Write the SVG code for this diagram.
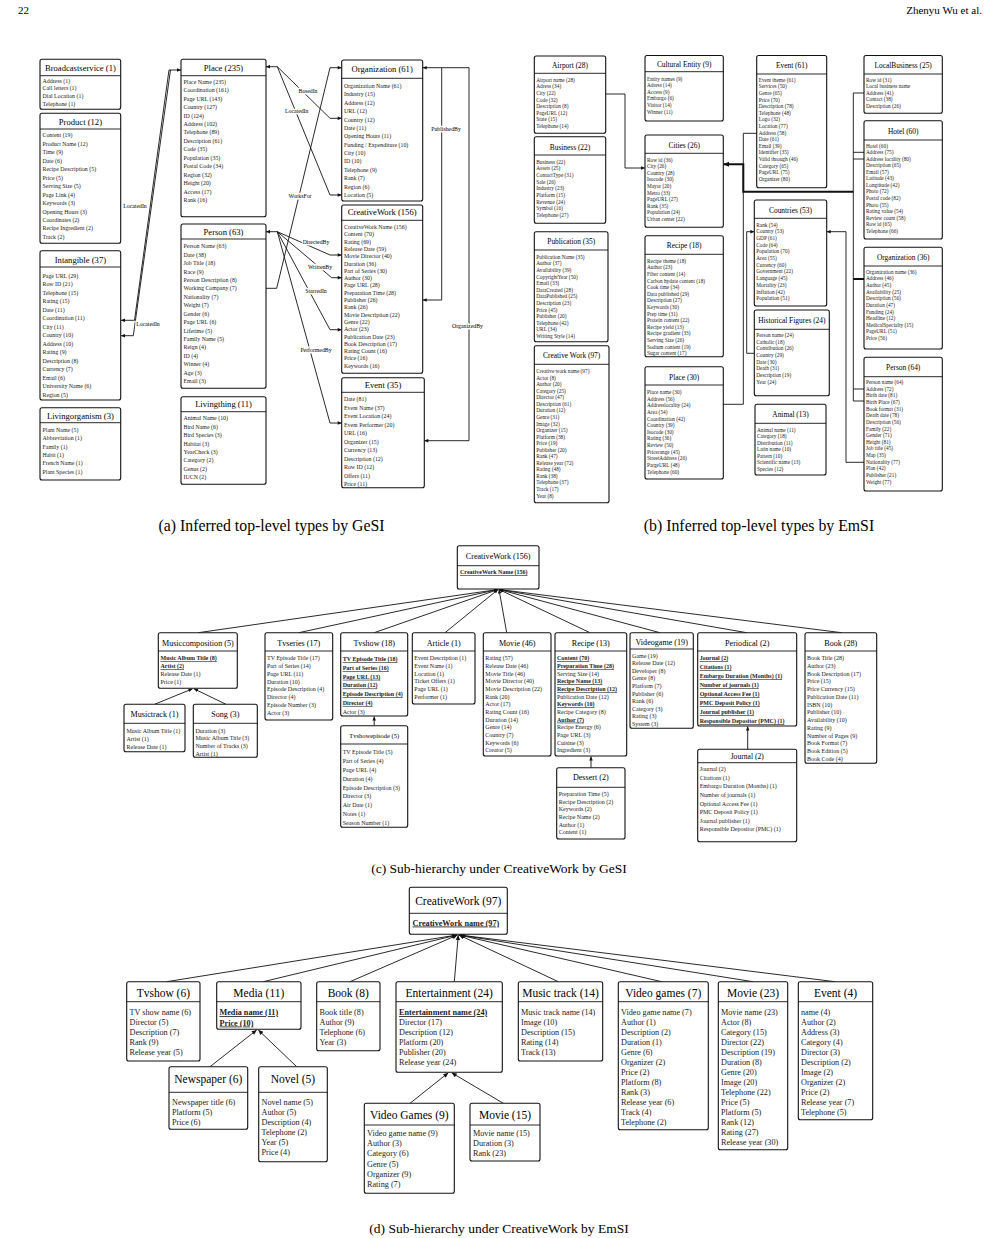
<svg xmlns="http://www.w3.org/2000/svg" width="999" height="1238" viewBox="0 0 999 1238">
<defs>
<style>
text{font-family:"Liberation Serif","Times New Roman",serif;fill:#000}
.b rect{fill:#fff;stroke:#111;stroke-width:1.1}
.b line{stroke:#111;stroke-width:0.9}
.ti{text-anchor:middle}
.it{fill:#1a1a1a}
.A .ti{font-size:8.6px}.A .it{font-size:5.9px}
.B .ti{font-size:7.4px}.B .it{font-size:5.3px}
.C .ti{font-size:8.1px}.C .it{font-size:6px}
.D .ti{font-size:11.5px}.D .it{font-size:8.2px}
.k{font-weight:bold;text-decoration:underline}
.e{fill:none;stroke:#111;stroke-width:0.9}
.th{fill:none;stroke:#111;stroke-width:2}
.lb{font-size:5.8px;text-anchor:middle;paint-order:stroke;stroke:#fff;stroke-width:2.5px}
.cap{font-size:13.5px;text-anchor:middle}
.cap2{font-size:15.8px;text-anchor:middle}
.hd{font-size:11px}
</style>
<marker id="ar" viewBox="0 0 10 10" refX="10" refY="5" markerWidth="4.5" markerHeight="4" markerUnits="userSpaceOnUse" orient="auto-start-reverse"><path d="M0,0.5 L10,5 L0,9.5 z" fill="#111"/></marker>
<marker id="at" viewBox="0 0 10 10" refX="10" refY="5" markerWidth="6" markerHeight="6" markerUnits="userSpaceOnUse" orient="auto-start-reverse"><path d="M0,0.5 L10,5 L0,9.5 z" fill="#111"/></marker>
<marker id="ad" viewBox="0 0 10 10" refX="10" refY="5" markerWidth="6" markerHeight="5" markerUnits="userSpaceOnUse" orient="auto-start-reverse"><path d="M0,0.5 L10,5 L0,9.5 z" fill="#111"/></marker>
</defs>
<rect width="999" height="1238" fill="#fff"/>
<text class="hd" x="18" y="14">22</text>
<text class="hd" x="982" y="14" text-anchor="end">Zhenyu Wu et al.</text>

<!-- ================= Panel (a) ================= -->
<g class="A">
<g id="a-connectors">
<path class="e" d="M121,320.3 H134.5 L169,70 H181" marker-start="url(#ar)" marker-end="url(#ar)"/>
<path class="e" d="M121,335.7 H133.3 L170.5,70" marker-start="url(#ar)"/>
<path class="e" d="M266,66.7 H277.3 L330,118.3 H341.7" marker-start="url(#ar)" marker-end="url(#ar)"/>
<path class="e" d="M277.3,66.7 L330,195 H341.7" marker-end="url(#ar)"/>
<path class="e" d="M266,288.3 H276.7 L330,67.7 H341.7" marker-end="url(#ar)"/>
<path class="e" d="M266,231.7 H277.3 L330,255 H341.7" marker-start="url(#ar)" marker-end="url(#ar)"/>
<path class="e" d="M277.3,231.7 L331.7,277.7 H341.7" marker-end="url(#ar)"/>
<path class="e" d="M277.3,231.7 L330,329.7 H341.7" marker-end="url(#ar)"/>
<path class="e" d="M277.3,231.7 L330,423 H341.7" marker-end="url(#ar)"/>
<path class="e" d="M422.7,67.7 H441.7 V300 H422.7" marker-start="url(#ar)" marker-end="url(#ar)"/>
<path class="e" d="M441.7,67.7 H469 V440.7 H424.3" marker-end="url(#ar)"/>
<text class="lb" x="135" y="207.7">LocatedIn</text>
<text class="lb" x="148" y="326">LocatedIn</text>
<text class="lb" x="308" y="92.7">BasedIn</text>
<text class="lb" x="296.7" y="112.7">LocatedIn</text>
<text class="lb" x="300" y="197.7">WorksFor</text>
<text class="lb" x="316" y="243.7">DirectedBy</text>
<text class="lb" x="320" y="269.3">WrittenBy</text>
<text class="lb" x="316" y="292.7">StarredIn</text>
<text class="lb" x="316" y="352">PerformedBy</text>
<text class="lb" x="446" y="131">PublishedBy</text>
<text class="lb" x="467.5" y="328">OrganizedBy</text>
</g>

<g id="a-broadcastservice" class="b"><rect x="40" y="59.3" width="80.7" height="50" rx="2"/><line x1="40" y1="75.7" x2="120.7" y2="75.7"/><text class="ti" x="80.4" y="71">Broadcastservice (1)</text>
<text class="it"><tspan x="42.5" y="82.7">Address (1)</tspan><tspan x="42.5" dy="7.7">Call letters (1)</tspan><tspan x="42.5" dy="7.7">Dial Location (1)</tspan><tspan x="42.5" dy="7.7">Telephone (1)</tspan></text></g>

<g id="a-product" class="b"><rect x="40" y="113.3" width="80.7" height="130" rx="2"/><line x1="40" y1="129" x2="120.7" y2="129"/><text class="ti" x="80.4" y="124.7">Product (12)</text>
<text class="it"><tspan x="42.5" y="137.3">Content (19)</tspan><tspan x="42.5" dy="8.47">Product Name (12)</tspan><tspan x="42.5" dy="8.47">Time (9)</tspan><tspan x="42.5" dy="8.47">Date (6)</tspan><tspan x="42.5" dy="8.47">Recipe Description (5)</tspan><tspan x="42.5" dy="8.47">Price (5)</tspan><tspan x="42.5" dy="8.47">Serving Size (5)</tspan><tspan x="42.5" dy="8.47">Page Link (4)</tspan><tspan x="42.5" dy="8.47">Keywords (3)</tspan><tspan x="42.5" dy="8.47">Opening Hours (3)</tspan><tspan x="42.5" dy="8.47">Coordinates (2)</tspan><tspan x="42.5" dy="8.47">Recipe Ingredient (2)</tspan><tspan x="42.5" dy="8.47">Track (2)</tspan></text></g>

<g id="a-intangible" class="b"><rect x="40" y="250.7" width="80.7" height="149.3" rx="2"/><line x1="40" y1="267" x2="120.7" y2="267"/><text class="ti" x="80.4" y="262.7">Intangible (37)</text>
<text class="it"><tspan x="42.5" y="277.7">Page URL (29)</tspan><tspan x="42.5" dy="8.5">Row ID (21)</tspan><tspan x="42.5" dy="8.5">Telephone (15)</tspan><tspan x="42.5" dy="8.5">Rating (15)</tspan><tspan x="42.5" dy="8.5">Date (11)</tspan><tspan x="42.5" dy="8.5">Coordination (11)</tspan><tspan x="42.5" dy="8.5">City (11)</tspan><tspan x="42.5" dy="8.5">Country (10)</tspan><tspan x="42.5" dy="8.5">Address (10)</tspan><tspan x="42.5" dy="8.5">Rating (9)</tspan><tspan x="42.5" dy="8.5">Description (8)</tspan><tspan x="42.5" dy="8.5">Currency (7)</tspan><tspan x="42.5" dy="8.5">Email (6)</tspan><tspan x="42.5" dy="8.5">University Name (6)</tspan><tspan x="42.5" dy="8.5">Region (5)</tspan></text></g>

<g id="a-livingorganism" class="b"><rect x="40" y="407.7" width="80.7" height="72.3" rx="2"/><line x1="40" y1="422.7" x2="120.7" y2="422.7"/><text class="ti" x="80.4" y="418.7">Livingorganism (3)</text>
<text class="it"><tspan x="42.5" y="432">Plant Name (5)</tspan><tspan x="42.5" dy="8.3">Abbreviation (1)</tspan><tspan x="42.5" dy="8.3">Family (1)</tspan><tspan x="42.5" dy="8.3">Habit (1)</tspan><tspan x="42.5" dy="8.3">French Name (1)</tspan><tspan x="42.5" dy="8.3">Plant Species (1)</tspan></text></g>

<g id="a-place" class="b"><rect x="181" y="59.3" width="85" height="157.4" rx="2"/><line x1="181" y1="75.7" x2="266" y2="75.7"/><text class="ti" x="223.5" y="70.7">Place (235)</text>
<text class="it"><tspan x="183.5" y="83.7">Place Name (235)</tspan><tspan x="183.5" dy="8.45">Coordination (161)</tspan><tspan x="183.5" dy="8.45">Page URL (143)</tspan><tspan x="183.5" dy="8.45">Country (127)</tspan><tspan x="183.5" dy="8.45">ID (124)</tspan><tspan x="183.5" dy="8.45">Address (102)</tspan><tspan x="183.5" dy="8.45">Telephone (89)</tspan><tspan x="183.5" dy="8.45">Description (61)</tspan><tspan x="183.5" dy="8.45">Code (35)</tspan><tspan x="183.5" dy="8.45">Population (35)</tspan><tspan x="183.5" dy="8.45">Postal Code (34)</tspan><tspan x="183.5" dy="8.45">Region (32)</tspan><tspan x="183.5" dy="8.45">Height (20)</tspan><tspan x="183.5" dy="8.45">Access (17)</tspan><tspan x="183.5" dy="8.45">Rank (16)</tspan></text></g>

<g id="a-person" class="b"><rect x="181" y="224" width="85" height="164.3" rx="2"/><line x1="181" y1="239" x2="266" y2="239"/><text class="ti" x="223.5" y="235.3">Person (63)</text>
<text class="it"><tspan x="183.5" y="248.3">Person Name (63)</tspan><tspan x="183.5" dy="8.42">Date (38)</tspan><tspan x="183.5" dy="8.42">Job Title (18)</tspan><tspan x="183.5" dy="8.42">Race (9)</tspan><tspan x="183.5" dy="8.42">Person Description (8)</tspan><tspan x="183.5" dy="8.42">Working Company (7)</tspan><tspan x="183.5" dy="8.42">Nationality (7)</tspan><tspan x="183.5" dy="8.42">Weight (7)</tspan><tspan x="183.5" dy="8.42">Gender (6)</tspan><tspan x="183.5" dy="8.42">Page URL (6)</tspan><tspan x="183.5" dy="8.42">Lifetime (5)</tspan><tspan x="183.5" dy="8.42">Family Name (5)</tspan><tspan x="183.5" dy="8.42">Reign (4)</tspan><tspan x="183.5" dy="8.42">ID (4)</tspan><tspan x="183.5" dy="8.42">Winner (4)</tspan><tspan x="183.5" dy="8.42">Age (3)</tspan><tspan x="183.5" dy="8.42">Email (3)</tspan></text></g>

<g id="a-livingthing" class="b"><rect x="181" y="396.7" width="85" height="87.6" rx="2"/><line x1="181" y1="411.7" x2="266" y2="411.7"/><text class="ti" x="223.5" y="407.3">Livingthing (11)</text>
<text class="it"><tspan x="183.5" y="420.3">Animal Name (10)</tspan><tspan x="183.5" dy="8.43">Bird Name (6)</tspan><tspan x="183.5" dy="8.43">Bird Species (3)</tspan><tspan x="183.5" dy="8.43">Habitat (3)</tspan><tspan x="183.5" dy="8.43">YearCheck (3)</tspan><tspan x="183.5" dy="8.43">Category (2)</tspan><tspan x="183.5" dy="8.43">Genus (2)</tspan><tspan x="183.5" dy="8.43">IUCN (2)</tspan></text></g>

<g id="a-organization" class="b"><rect x="341.7" y="60" width="81" height="141" rx="2"/><line x1="341.7" y1="78.3" x2="422.7" y2="78.3"/><text class="ti" x="382.2" y="72.3">Organization (61)</text>
<text class="it"><tspan x="344" y="88">Organization Name (61)</tspan><tspan x="344" dy="8.38">Industry (15)</tspan><tspan x="344" dy="8.38">Address (12)</tspan><tspan x="344" dy="8.38">URL (12)</tspan><tspan x="344" dy="8.38">Country (12)</tspan><tspan x="344" dy="8.38">Date (11)</tspan><tspan x="344" dy="8.38">Opening Hours (11)</tspan><tspan x="344" dy="8.38">Funding / Expenditure (10)</tspan><tspan x="344" dy="8.38">City (10)</tspan><tspan x="344" dy="8.38">ID (10)</tspan><tspan x="344" dy="8.38">Telephone (9)</tspan><tspan x="344" dy="8.38">Rank (7)</tspan><tspan x="344" dy="8.38">Region (6)</tspan><tspan x="344" dy="8.38">Location (5)</tspan></text></g>

<g id="a-creativework" class="b"><rect x="341.7" y="205" width="81" height="168.3" rx="2"/><line x1="341.7" y1="220.3" x2="422.7" y2="220.3"/><text class="ti" x="382.2" y="215.3">CreativeWork (156)</text>
<text class="it"><tspan x="344" y="229">CreativeWork Name (156)</tspan><tspan x="344" dy="7.3">Content (70)</tspan><tspan x="344" dy="7.3">Rating (69)</tspan><tspan x="344" dy="7.3">Release Date (59)</tspan><tspan x="344" dy="7.3">Movie Director (40)</tspan><tspan x="344" dy="7.3">Duration (36)</tspan><tspan x="344" dy="7.3">Part of Series (30)</tspan><tspan x="344" dy="7.3">Author (30)</tspan><tspan x="344" dy="7.3">Page URL (28)</tspan><tspan x="344" dy="7.3">Preparation Time (28)</tspan><tspan x="344" dy="7.3">Publisher (26)</tspan><tspan x="344" dy="7.3">Rank (26)</tspan><tspan x="344" dy="7.3">Movie Description (22)</tspan><tspan x="344" dy="7.3">Genre (22)</tspan><tspan x="344" dy="7.3">Actor (23)</tspan><tspan x="344" dy="7.3">Publication Date (23)</tspan><tspan x="344" dy="7.3">Book Description (17)</tspan><tspan x="344" dy="7.3">Rating Count (16)</tspan><tspan x="344" dy="7.3">Price (16)</tspan><tspan x="344" dy="7.3">Keywords (16)</tspan></text></g>

<g id="a-event" class="b"><rect x="341.7" y="377.7" width="82.6" height="110" rx="2"/><line x1="341.7" y1="392.3" x2="424.3" y2="392.3"/><text class="ti" x="383" y="388">Event (35)</text>
<text class="it"><tspan x="344" y="401">Date (81)</tspan><tspan x="344" dy="8.5">Event Name (37)</tspan><tspan x="344" dy="8.5">Event Location (24)</tspan><tspan x="344" dy="8.5">Event Performer (20)</tspan><tspan x="344" dy="8.5">URL (16)</tspan><tspan x="344" dy="8.5">Organizer (15)</tspan><tspan x="344" dy="8.5">Currency (13)</tspan><tspan x="344" dy="8.5">Description (12)</tspan><tspan x="344" dy="8.5">Row ID (12)</tspan><tspan x="344" dy="8.5">Offers (11)</tspan><tspan x="344" dy="8.5">Price (11)</tspan></text></g>
</g>
<text class="cap2" x="271.5" y="531">(a) Inferred top-level types by GeSI</text>

<!-- ================= Panel (b) ================= -->
<g class="B">
<g id="b-connectors">
<path class="e" d="M605.7,94 H625 V168 H645" marker-end="url(#ar)"/>
<path class="e" d="M756.7,133.3 H743.3 V404.3 H723.3"/>
<path class="th" d="M853.3,191.7 H743.3 V164.3 H723.3" marker-end="url(#at)"/>
<path class="e" d="M864,93 H853.3 V401 H864"/>
<path class="e" d="M853.3,152.3 H864 M853.3,159 H864 M853.3,389 H864"/>
<path class="th" d="M853.3,279 H864"/>
<path class="e" d="M864,462.3 H846 V231.7 H826.7" marker-end="url(#ar)"/>
<path class="e" d="M754.3,353.3 H746.7 V231.7 H754.3" marker-end="url(#ar)"/>
</g>

<g id="b-airport" class="b"><rect x="534.3" y="56" width="71.4" height="77.3" rx="2"/><line x1="534.3" y1="73.3" x2="605.7" y2="73.3"/><text class="ti" x="570" y="67.5">Airport (28)</text>
<text class="it"><tspan x="536.3" y="81.8">Airport name (28)</tspan><tspan x="536.3" dy="6.57">Adress (34)</tspan><tspan x="536.3" dy="6.57">City (22)</tspan><tspan x="536.3" dy="6.57">Code (32)</tspan><tspan x="536.3" dy="6.57">Description (8)</tspan><tspan x="536.3" dy="6.57">PageURL (12)</tspan><tspan x="536.3" dy="6.57">State (15)</tspan><tspan x="536.3" dy="6.57">Telephone (14)</tspan></text></g>

<g id="b-business" class="b"><rect x="534.3" y="136.7" width="71.4" height="86.6" rx="2"/><line x1="534.3" y1="155" x2="605.7" y2="155"/><text class="ti" x="570" y="149.8">Business (22)</text>
<text class="it"><tspan x="536.3" y="163.8">Business (22)</tspan><tspan x="536.3" dy="6.67">Assets (25)</tspan><tspan x="536.3" dy="6.67">ContactType (31)</tspan><tspan x="536.3" dy="6.67">Sale (26)</tspan><tspan x="536.3" dy="6.67">Industry (23)</tspan><tspan x="536.3" dy="6.67">Platform (15)</tspan><tspan x="536.3" dy="6.67">Revenue (24)</tspan><tspan x="536.3" dy="6.67">Symbol (16)</tspan><tspan x="536.3" dy="6.67">Telephone (27)</tspan></text></g>

<g id="b-publication" class="b"><rect x="534.3" y="231.7" width="73.7" height="110" rx="2"/><line x1="534.3" y1="250" x2="608" y2="250"/><text class="ti" x="571.2" y="243.5">Publication (35)</text>
<text class="it"><tspan x="536.3" y="258.8">Publication Name (35)</tspan><tspan x="536.3" dy="6.6">Author (37)</tspan><tspan x="536.3" dy="6.6">Availability (39)</tspan><tspan x="536.3" dy="6.6">CopyrightYear (50)</tspan><tspan x="536.3" dy="6.6">Email (33)</tspan><tspan x="536.3" dy="6.6">DataCreated (28)</tspan><tspan x="536.3" dy="6.6">DataPublished (25)</tspan><tspan x="536.3" dy="6.6">Description (23)</tspan><tspan x="536.3" dy="6.6">Price (45)</tspan><tspan x="536.3" dy="6.6">Publisher (20)</tspan><tspan x="536.3" dy="6.6">Telephone (42)</tspan><tspan x="536.3" dy="6.6">URL (34)</tspan><tspan x="536.3" dy="6.6">Writing Style (14)</tspan></text></g>

<g id="b-creativework" class="b"><rect x="534.3" y="345.7" width="74.7" height="157" rx="2"/><line x1="534.3" y1="364.3" x2="609" y2="364.3"/><text class="ti" x="571.7" y="357.5">Creative Work (97)</text>
<text class="it"><tspan x="536.3" y="373.1">Creative work name (97)</tspan><tspan x="536.3" dy="6.55">Actor (8)</tspan><tspan x="536.3" dy="6.55">Author (20)</tspan><tspan x="536.3" dy="6.55">Category (25)</tspan><tspan x="536.3" dy="6.55">Director (47)</tspan><tspan x="536.3" dy="6.55">Description (61)</tspan><tspan x="536.3" dy="6.55">Duration (12)</tspan><tspan x="536.3" dy="6.55">Genre (31)</tspan><tspan x="536.3" dy="6.55">Image (32)</tspan><tspan x="536.3" dy="6.55">Organizer (15)</tspan><tspan x="536.3" dy="6.55">Platform (38)</tspan><tspan x="536.3" dy="6.55">Price (19)</tspan><tspan x="536.3" dy="6.55">Publisher (20)</tspan><tspan x="536.3" dy="6.55">Rank (47)</tspan><tspan x="536.3" dy="6.55">Release year (72)</tspan><tspan x="536.3" dy="6.55">Rating (48)</tspan><tspan x="536.3" dy="6.55">Rank (38)</tspan><tspan x="536.3" dy="6.55">Telephone (37)</tspan><tspan x="536.3" dy="6.55">Track (17)</tspan><tspan x="536.3" dy="6.55">Year (8)</tspan></text></g>

<g id="b-culturalentity" class="b"><rect x="645" y="55.5" width="78.3" height="65.5" rx="2"/><line x1="645" y1="71.7" x2="723.3" y2="71.7"/><text class="ti" x="684.2" y="66.8">Cultural Entity (9)</text>
<text class="it"><tspan x="647" y="80.8">Entity names (9)</tspan><tspan x="647" dy="6.54">Adress (14)</tspan><tspan x="647" dy="6.54">Access (9)</tspan><tspan x="647" dy="6.54">Embargo (6)</tspan><tspan x="647" dy="6.54">Visitor (14)</tspan><tspan x="647" dy="6.54">Winner (11)</tspan></text></g>

<g id="b-cities" class="b"><rect x="645" y="135" width="78.3" height="92.3" rx="2"/><line x1="645" y1="153.3" x2="723.3" y2="153.3"/><text class="ti" x="684.2" y="147.8">Cities (26)</text>
<text class="it"><tspan x="647" y="161.8">Row id (36)</tspan><tspan x="647" dy="6.56">City (26)</tspan><tspan x="647" dy="6.56">Country (28)</tspan><tspan x="647" dy="6.56">Isocode (30)</tspan><tspan x="647" dy="6.56">Mayor (20)</tspan><tspan x="647" dy="6.56">Metro (33)</tspan><tspan x="647" dy="6.56">PageURL (27)</tspan><tspan x="647" dy="6.56">Rank (35)</tspan><tspan x="647" dy="6.56">Population (24)</tspan><tspan x="647" dy="6.56">Urban center (22)</tspan></text></g>

<g id="b-recipe" class="b"><rect x="645" y="235.7" width="78.3" height="121" rx="2"/><line x1="645" y1="254.3" x2="723.3" y2="254.3"/><text class="ti" x="684.2" y="247.5">Recipe (18)</text>
<text class="it"><tspan x="647" y="262.8">Recipe theme (18)</tspan><tspan x="647" dy="6.6">Author (23)</tspan><tspan x="647" dy="6.6">Fiber content (14)</tspan><tspan x="647" dy="6.6">Carbon hydate content (18)</tspan><tspan x="647" dy="6.6">Cook time (34)</tspan><tspan x="647" dy="6.6">Data published (29)</tspan><tspan x="647" dy="6.6">Description (27)</tspan><tspan x="647" dy="6.6">Keywords (30)</tspan><tspan x="647" dy="6.6">Prep time (31)</tspan><tspan x="647" dy="6.6">Protein content (22)</tspan><tspan x="647" dy="6.6">Recipe yield (13)</tspan><tspan x="647" dy="6.6">Recipe gradient (33)</tspan><tspan x="647" dy="6.6">Serving Size (26)</tspan><tspan x="647" dy="6.6">Sodium content (19)</tspan><tspan x="647" dy="6.6">Sugar content (17)</tspan></text></g>

<g id="b-place" class="b"><rect x="645" y="366.7" width="78.3" height="112.3" rx="2"/><line x1="645" y1="385" x2="723.3" y2="385"/><text class="ti" x="684.2" y="380.2">Place (30)</text>
<text class="it"><tspan x="647" y="394.1">Place name (30)</tspan><tspan x="647" dy="6.62">Address (56)</tspan><tspan x="647" dy="6.62">Addresslocality (24)</tspan><tspan x="647" dy="6.62">Area (54)</tspan><tspan x="647" dy="6.62">Coordination (42)</tspan><tspan x="647" dy="6.62">Country (39)</tspan><tspan x="647" dy="6.62">Isocode (30)</tspan><tspan x="647" dy="6.62">Rating (36)</tspan><tspan x="647" dy="6.62">Review (50)</tspan><tspan x="647" dy="6.62">Pricerange (45)</tspan><tspan x="647" dy="6.62">StreetAddress (26)</tspan><tspan x="647" dy="6.62">PargeURL (48)</tspan><tspan x="647" dy="6.62">Telephone (60)</tspan></text></g>

<g id="b-event" class="b"><rect x="756.7" y="55.5" width="70" height="132.2" rx="2"/><line x1="756.7" y1="74" x2="826.7" y2="74"/><text class="ti" x="791.7" y="67.5">Event (61)</text>
<text class="it"><tspan x="758.7" y="81.8">Event theme (61)</tspan><tspan x="758.7" dy="6.6">Services (50)</tspan><tspan x="758.7" dy="6.6">Genre (65)</tspan><tspan x="758.7" dy="6.6">Price (70)</tspan><tspan x="758.7" dy="6.6">Description (78)</tspan><tspan x="758.7" dy="6.6">Telephone (48)</tspan><tspan x="758.7" dy="6.6">Logo (32)</tspan><tspan x="758.7" dy="6.6">Location (77)</tspan><tspan x="758.7" dy="6.6">Address (58)</tspan><tspan x="758.7" dy="6.6">Date (61)</tspan><tspan x="758.7" dy="6.6">Email (39)</tspan><tspan x="758.7" dy="6.6">Identifier (35)</tspan><tspan x="758.7" dy="6.6">Valid through (46)</tspan><tspan x="758.7" dy="6.6">Category (65)</tspan><tspan x="758.7" dy="6.6">PageURL (75)</tspan><tspan x="758.7" dy="6.6">Organizer (80)</tspan></text></g>

<g id="b-countries" class="b"><rect x="754.3" y="200" width="72.4" height="106" rx="2"/><line x1="754.3" y1="218.3" x2="826.7" y2="218.3"/><text class="ti" x="790.5" y="212.5">Countries (53)</text>
<text class="it"><tspan x="756.3" y="226.8">Rank (54)</tspan><tspan x="756.3" dy="6.67">Country (53)</tspan><tspan x="756.3" dy="6.67">GDP (61)</tspan><tspan x="756.3" dy="6.67">Code (64)</tspan><tspan x="756.3" dy="6.67">Population (70)</tspan><tspan x="756.3" dy="6.67">Area (55)</tspan><tspan x="756.3" dy="6.67">Currency (60)</tspan><tspan x="756.3" dy="6.67">Government (22)</tspan><tspan x="756.3" dy="6.67">Language (45)</tspan><tspan x="756.3" dy="6.67">Mortality (23)</tspan><tspan x="756.3" dy="6.67">Inflation (42)</tspan><tspan x="756.3" dy="6.67">Population (51)</tspan></text></g>

<g id="b-historicalfigures" class="b"><rect x="754.3" y="310" width="75" height="85.7" rx="2"/><line x1="754.3" y1="329.3" x2="829.3" y2="329.3"/><text class="ti" x="791.8" y="323.2">Historical Figures (24)</text>
<text class="it"><tspan x="756.3" y="337.1">Person name (24)</tspan><tspan x="756.3" dy="6.67">Catholic (18)</tspan><tspan x="756.3" dy="6.67">Contribution (26)</tspan><tspan x="756.3" dy="6.67">Country (29)</tspan><tspan x="756.3" dy="6.67">Date (30)</tspan><tspan x="756.3" dy="6.67">Death (31)</tspan><tspan x="756.3" dy="6.67">Description (19)</tspan><tspan x="756.3" dy="6.67">Year (24)</tspan></text></g>

<g id="b-animal" class="b"><rect x="755" y="404.3" width="71" height="70.7" rx="2"/><line x1="755" y1="423.3" x2="826" y2="423.3"/><text class="ti" x="790.5" y="416.8">Animal (13)</text>
<text class="it"><tspan x="757" y="431.8">Animal name (11)</tspan><tspan x="757" dy="6.5">Category (18)</tspan><tspan x="757" dy="6.5">Distribution (11)</tspan><tspan x="757" dy="6.5">Latin name (10)</tspan><tspan x="757" dy="6.5">Pattern (10)</tspan><tspan x="757" dy="6.5">Scientific name (13)</tspan><tspan x="757" dy="6.5">Species (12)</tspan></text></g>

<g id="b-localbusiness" class="b"><rect x="864" y="55.5" width="78.3" height="57.8" rx="2"/><line x1="864" y1="74" x2="942.3" y2="74"/><text class="ti" x="903.2" y="67.5">LocalBusiness (25)</text>
<text class="it"><tspan x="866" y="81.8">Row id (31)</tspan><tspan x="866" dy="6.5">Local business name</tspan><tspan x="866" dy="6.5">Address (41)</tspan><tspan x="866" dy="6.5">Contact (38)</tspan><tspan x="866" dy="6.5">Description (26)</tspan></text></g>

<g id="b-hotel" class="b"><rect x="864" y="120.7" width="78.3" height="118.3" rx="2"/><line x1="864" y1="140" x2="942.3" y2="140"/><text class="ti" x="903.2" y="133.5">Hotel (60)</text>
<text class="it"><tspan x="866" y="147.5">Hotel (60)</tspan><tspan x="866" dy="6.56">Address (75)</tspan><tspan x="866" dy="6.56">Address locality (80)</tspan><tspan x="866" dy="6.56">Description (65)</tspan><tspan x="866" dy="6.56">Email (57)</tspan><tspan x="866" dy="6.56">Latitude (43)</tspan><tspan x="866" dy="6.56">Longtitude (42)</tspan><tspan x="866" dy="6.56">Photo (72)</tspan><tspan x="866" dy="6.56">Postal code (82)</tspan><tspan x="866" dy="6.56">Photo (55)</tspan><tspan x="866" dy="6.56">Rating value (54)</tspan><tspan x="866" dy="6.56">Review count (58)</tspan><tspan x="866" dy="6.56">Row id (65)</tspan><tspan x="866" dy="6.56">Telephone (66)</tspan></text></g>

<g id="b-organization" class="b"><rect x="864" y="247.3" width="78.3" height="101.7" rx="2"/><line x1="864" y1="266" x2="942.3" y2="266"/><text class="ti" x="903.2" y="259.8">Organization (36)</text>
<text class="it"><tspan x="866" y="273.8">Organization name (36)</tspan><tspan x="866" dy="6.63">Address (46)</tspan><tspan x="866" dy="6.63">Author (45)</tspan><tspan x="866" dy="6.63">Availability (25)</tspan><tspan x="866" dy="6.63">Description (56)</tspan><tspan x="866" dy="6.63">Duration (47)</tspan><tspan x="866" dy="6.63">Funding (24)</tspan><tspan x="866" dy="6.63">Headline (12)</tspan><tspan x="866" dy="6.63">MedicalSpecialty (15)</tspan><tspan x="866" dy="6.63">PageURL (51)</tspan><tspan x="866" dy="6.63">Price (56)</tspan></text></g>

<g id="b-person" class="b"><rect x="864" y="357.3" width="78.3" height="133.7" rx="2"/><line x1="864" y1="376.7" x2="942.3" y2="376.7"/><text class="ti" x="903.2" y="369.8">Person (64)</text>
<text class="it"><tspan x="866" y="384.1">Person name (64)</tspan><tspan x="866" dy="6.63">Address (72)</tspan><tspan x="866" dy="6.63">Birth date (81)</tspan><tspan x="866" dy="6.63">Birth Place (67)</tspan><tspan x="866" dy="6.63">Book format (31)</tspan><tspan x="866" dy="6.63">Death date (78)</tspan><tspan x="866" dy="6.63">Description (56)</tspan><tspan x="866" dy="6.63">Family (22)</tspan><tspan x="866" dy="6.63">Gender (71)</tspan><tspan x="866" dy="6.63">Height (81)</tspan><tspan x="866" dy="6.63">Job title (45)</tspan><tspan x="866" dy="6.63">Map (35)</tspan><tspan x="866" dy="6.63">Nationality (77)</tspan><tspan x="866" dy="6.63">Plan (42)</tspan><tspan x="866" dy="6.63">Publisher (21)</tspan><tspan x="866" dy="6.63">Weight (77)</tspan></text></g>
</g>
<text class="cap2" x="759" y="531">(b) Inferred top-level types by EmSI</text>

<!-- ================= Panel (c) ================= -->
<g class="C">
<g id="c-connectors">
<path class="e" d="M198.3,632.7 L498,589.5" marker-end="url(#ar)"/>
<path class="e" d="M298.8,632.7 L498,589.5" marker-end="url(#ar)"/>
<path class="e" d="M374.2,632.7 L498,589.5" marker-end="url(#ar)"/>
<path class="e" d="M445,632.7 L498,589.5" marker-end="url(#ar)"/>
<path class="e" d="M506.7,632.7 L499,589.5" marker-end="url(#ar)"/>
<path class="e" d="M590,632.7 L499,589.5" marker-end="url(#ar)"/>
<path class="e" d="M660,632.7 L499,589.5" marker-end="url(#ar)"/>
<path class="e" d="M746.7,632.7 L499,589.5" marker-end="url(#ar)"/>
<path class="e" d="M841.7,632.7 L499,589.5" marker-end="url(#ar)"/>
<path class="e" d="M154.5,704.3 L192.5,688.8" marker-end="url(#ar)"/>
<path class="e" d="M226,704.3 L194,688.8" marker-end="url(#ar)"/>
<path class="e" d="M374.2,725.7 V716.5" marker-end="url(#ar)"/>
<path class="e" d="M591,767.7 V756.5" marker-end="url(#ar)"/>
<path class="e" d="M747.7,749.3 V726.5" marker-end="url(#ar)"/>
</g>

<g id="c-creativework" class="b"><rect x="457.3" y="545.7" width="81.7" height="43.3" rx="2"/><line x1="457.3" y1="565.7" x2="539" y2="565.7"/><text class="ti" x="498.2" y="558.5">CreativeWork (156)</text>
<text class="it k" x="460" y="574.3">CreativeWork Name (156)</text></g>

<g id="c-musiccomposition" class="b"><rect x="158.3" y="632.7" width="79" height="55.6" rx="2"/><line x1="158.3" y1="651" x2="237.3" y2="651"/><text class="ti" x="197.8" y="646.1">Musiccomposition (5)</text>
<text class="it"><tspan class="k" x="160.5" y="660.3">Music Album Title (8)</tspan><tspan class="k" x="160.5" dy="7.8">Artist (2)</tspan><tspan x="160.5" dy="7.8">Release Date (1)</tspan><tspan x="160.5" dy="7.8">Price (1)</tspan></text></g>

<g id="c-musictrack" class="b"><rect x="124" y="704.3" width="61" height="47.4" rx="2"/><line x1="124" y1="723.3" x2="185" y2="723.3"/><text class="ti" x="154.5" y="716.8">Musictrack (1)</text>
<text class="it"><tspan x="126.5" y="733">Music Album Title (1)</tspan><tspan x="126.5" dy="7.85">Artist (1)</tspan><tspan x="126.5" dy="7.85">Release Date (1)</tspan></text></g>

<g id="c-song" class="b"><rect x="193.3" y="704.3" width="64" height="53" rx="2"/><line x1="193.3" y1="723.3" x2="257.3" y2="723.3"/><text class="ti" x="225.3" y="716.8">Song (3)</text>
<text class="it"><tspan x="195.5" y="732.7">Duration (3)</tspan><tspan x="195.5" dy="7.67">Music Album Title (3)</tspan><tspan x="195.5" dy="7.67">Number of Tracks (3)</tspan><tspan x="195.5" dy="7.67">Artist (1)</tspan></text></g>

<g id="c-tvseries" class="b"><rect x="265" y="632.7" width="67.7" height="87.3" rx="2"/><line x1="265" y1="651" x2="332.7" y2="651"/><text class="ti" x="298.8" y="646.1">Tvseries (17)</text>
<text class="it"><tspan x="267" y="660.3">TV Episode Title (17)</tspan><tspan x="267" dy="7.77">Part of Series (14)</tspan><tspan x="267" dy="7.77">Page URL (11)</tspan><tspan x="267" dy="7.77">Duration (10)</tspan><tspan x="267" dy="7.77">Episode Description (4)</tspan><tspan x="267" dy="7.77">Director (4)</tspan><tspan x="267" dy="7.77">Episode Number (3)</tspan><tspan x="267" dy="7.77">Actor (3)</tspan></text></g>

<g id="c-tvshow" class="b"><rect x="340.7" y="632.7" width="67" height="83.3" rx="2"/><line x1="340.7" y1="651" x2="407.7" y2="651"/><text class="ti" x="374.2" y="646.1">Tvshow (18)</text>
<text class="it"><tspan class="k" x="342.7" y="661.3">TV Episode Title (18)</tspan><tspan class="k" x="342.7" dy="8.73">Part of Series (16)</tspan><tspan class="k" x="342.7" dy="8.73">Page URL (13)</tspan><tspan class="k" x="342.7" dy="8.73">Duration (12)</tspan><tspan class="k" x="342.7" dy="8.73">Episode Description (4)</tspan><tspan class="k" x="342.7" dy="8.73">Director (4)</tspan><tspan x="342.7" dy="8.73">Actor (3)</tspan></text></g>

<g id="c-tvshowepisode" class="b"><rect x="340.7" y="725.7" width="67" height="101.6" rx="2"/><line x1="340.7" y1="744" x2="407.7" y2="744"/><text class="ti" x="374.2" y="737.8" style="font-size:6.5px">Tvshowepisode (5)</text>
<text class="it"><tspan x="342.7" y="754.3">TV Episode Title (5)</tspan><tspan x="342.7" dy="8.8">Part of Series (4)</tspan><tspan x="342.7" dy="8.8">Page URL (4)</tspan><tspan x="342.7" dy="8.8">Duration (4)</tspan><tspan x="342.7" dy="8.8">Episode Description (3)</tspan><tspan x="342.7" dy="8.8">Director (3)</tspan><tspan x="342.7" dy="8.8">Air Date (1)</tspan><tspan x="342.7" dy="8.8">Notes (1)</tspan><tspan x="342.7" dy="8.8">Season Number (1)</tspan></text></g>

<g id="c-article" class="b"><rect x="412.3" y="632.7" width="62.7" height="71.3" rx="2"/><line x1="412.3" y1="651" x2="475" y2="651"/><text class="ti" x="443.7" y="646.1">Article (1)</text>
<text class="it"><tspan x="414.3" y="660.3">Event Description (1)</tspan><tspan x="414.3" dy="7.7">Event Name (1)</tspan><tspan x="414.3" dy="7.7">Location (1)</tspan><tspan x="414.3" dy="7.7">Ticket Offers (1)</tspan><tspan x="414.3" dy="7.7">Page URL (1)</tspan><tspan x="414.3" dy="7.7">Performer (1)</tspan></text></g>

<g id="c-movie" class="b"><rect x="483.3" y="632.7" width="67.7" height="123.3" rx="2"/><line x1="483.3" y1="651" x2="551" y2="651"/><text class="ti" x="517.2" y="646.1">Movie (46)</text>
<text class="it"><tspan x="485.3" y="660.3">Rating (57)</tspan><tspan x="485.3" dy="7.67">Release Date (46)</tspan><tspan x="485.3" dy="7.67">Movie Title (46)</tspan><tspan x="485.3" dy="7.67">Movie Director (40)</tspan><tspan x="485.3" dy="7.67">Movie Description (22)</tspan><tspan x="485.3" dy="7.67">Rank (20)</tspan><tspan x="485.3" dy="7.67">Actor (17)</tspan><tspan x="485.3" dy="7.67">Rating Count (16)</tspan><tspan x="485.3" dy="7.67">Duration (14)</tspan><tspan x="485.3" dy="7.67">Genre (14)</tspan><tspan x="485.3" dy="7.67">Country (7)</tspan><tspan x="485.3" dy="7.67">Keywords (6)</tspan><tspan x="485.3" dy="7.67">Creator (5)</tspan></text></g>

<g id="c-recipe" class="b"><rect x="555" y="632.7" width="71.7" height="123.3" rx="2"/><line x1="555" y1="651" x2="626.7" y2="651"/><text class="ti" x="590.8" y="646.1">Recipe (13)</text>
<text class="it"><tspan class="k" x="557" y="660.3">Content (70)</tspan><tspan class="k" x="557" dy="7.67">Preparation Time (28)</tspan><tspan x="557" dy="7.67">Serving Size (14)</tspan><tspan class="k" x="557" dy="7.67">Recipe Name (13)</tspan><tspan class="k" x="557" dy="7.67">Recipe Description (12)</tspan><tspan x="557" dy="7.67">Publication Date (12)</tspan><tspan class="k" x="557" dy="7.67">Keywords (10)</tspan><tspan x="557" dy="7.67">Recipe Category (8)</tspan><tspan class="k" x="557" dy="7.67">Author (7)</tspan><tspan x="557" dy="7.67">Recipe Energy (6)</tspan><tspan x="557" dy="7.67">Page URL (3)</tspan><tspan x="557" dy="7.67">Cuisine (3)</tspan><tspan x="557" dy="7.67">Ingredient (3)</tspan></text></g>

<g id="c-dessert" class="b"><rect x="556.7" y="767.7" width="68.3" height="71.3" rx="2"/><line x1="556.7" y1="787.3" x2="625" y2="787.3"/><text class="ti" x="590.8" y="780.1">Dessert (2)</text>
<text class="it"><tspan x="558.7" y="796">Preparation Time (5)</tspan><tspan x="558.7" dy="7.67">Recipe Description (2)</tspan><tspan x="558.7" dy="7.67">Keywords (2)</tspan><tspan x="558.7" dy="7.67">Recipe Name (2)</tspan><tspan x="558.7" dy="7.67">Author (1)</tspan><tspan x="558.7" dy="7.67">Content (1)</tspan></text></g>

<g id="c-videogame" class="b"><rect x="630" y="632.7" width="63.3" height="95.6" rx="2"/><line x1="630" y1="649" x2="693.3" y2="649"/><text class="ti" x="661.7" y="644.5">Videogame (19)</text>
<text class="it"><tspan x="632" y="657.7">Game (19)</tspan><tspan x="632" dy="7.56">Release Date (12)</tspan><tspan x="632" dy="7.56">Developer (8)</tspan><tspan x="632" dy="7.56">Genre (8)</tspan><tspan x="632" dy="7.56">Platform (7)</tspan><tspan x="632" dy="7.56">Publisher (6)</tspan><tspan x="632" dy="7.56">Rank (6)</tspan><tspan x="632" dy="7.56">Category (3)</tspan><tspan x="632" dy="7.56">Rating (3)</tspan><tspan x="632" dy="7.56">System (3)</tspan></text></g>

<g id="c-periodical" class="b"><rect x="697.7" y="632.7" width="99" height="93.3" rx="2"/><line x1="697.7" y1="651" x2="796.7" y2="651"/><text class="ti" x="747.2" y="646.1">Periodical (2)</text>
<text class="it k"><tspan x="699.7" y="660.3">Journal (2)</tspan><tspan x="699.7" dy="8.96">Citations (1)</tspan><tspan x="699.7" dy="8.96">Embargo Duration (Months) (1)</tspan><tspan x="699.7" dy="8.96">Number of journals (1)</tspan><tspan x="699.7" dy="8.96">Optional Access Fee (1)</tspan><tspan x="699.7" dy="8.96">PMC Deposit Policy (1)</tspan><tspan x="699.7" dy="8.96">Journal publisher (1)</tspan><tspan x="699.7" dy="8.96">Responsible Depositor (PMC) (1)</tspan></text></g>

<g id="c-journal" class="b"><rect x="697.7" y="749.3" width="99" height="92.4" rx="2"/><line x1="697.7" y1="762.7" x2="796.7" y2="762.7"/><text class="ti" x="747.2" y="759.2" style="font-size:7.6px">Journal (2)</text>
<text class="it"><tspan x="699.7" y="771.3">Journal (2)</tspan><tspan x="699.7" dy="8.57">Citations (1)</tspan><tspan x="699.7" dy="8.57">Embargo Duration (Months) (1)</tspan><tspan x="699.7" dy="8.57">Number of journals (1)</tspan><tspan x="699.7" dy="8.57">Optional Access Fee (1)</tspan><tspan x="699.7" dy="8.57">PMC Deposit Policy (1)</tspan><tspan x="699.7" dy="8.57">Journal publisher (1)</tspan><tspan x="699.7" dy="8.57">Responsible Depositor (PMC) (1)</tspan></text></g>

<g id="c-book" class="b"><rect x="805" y="632.7" width="71.7" height="130.6" rx="2"/><line x1="805" y1="651" x2="876.7" y2="651"/><text class="ti" x="840.8" y="646.1">Book (28)</text>
<text class="it"><tspan x="807" y="660.3">Book Title (28)</tspan><tspan x="807" dy="7.72">Author (23)</tspan><tspan x="807" dy="7.72">Book Description (17)</tspan><tspan x="807" dy="7.72">Price (15)</tspan><tspan x="807" dy="7.72">Price Currency (15)</tspan><tspan x="807" dy="7.72">Publication Date (11)</tspan><tspan x="807" dy="7.72">ISBN (10)</tspan><tspan x="807" dy="7.72">Publisher (10)</tspan><tspan x="807" dy="7.72">Availability (10)</tspan><tspan x="807" dy="7.72">Rating (9)</tspan><tspan x="807" dy="7.72">Number of Pages (9)</tspan><tspan x="807" dy="7.72">Book Format (7)</tspan><tspan x="807" dy="7.72">Book Edition (5)</tspan><tspan x="807" dy="7.72">Book Code (4)</tspan></text></g>
</g>
<text class="cap" x="499" y="873">(c) Sub-hierarchy under CreativeWork by GeSI</text>

<!-- ================= Panel (d) ================= -->
<g class="D">
<g id="d-connectors">
<path class="e" d="M166.7,981.7 L457,935" marker-end="url(#ad)"/>
<path class="e" d="M263.3,981.7 L457,935" marker-end="url(#ad)"/>
<path class="e" d="M350,981.7 L457.5,935" marker-end="url(#ad)"/>
<path class="e" d="M454.3,981.7 L458.3,935" marker-end="url(#ad)"/>
<path class="e" d="M558.3,981.7 L459,935" marker-end="url(#ad)"/>
<path class="e" d="M661.7,981.7 L459.5,935" marker-end="url(#ad)"/>
<path class="e" d="M753,981.7 L459.5,935" marker-end="url(#ad)"/>
<path class="e" d="M835,981.7 L459.5,935" marker-end="url(#ad)"/>
<path class="e" d="M210,1066.7 L256.7,1030" marker-end="url(#ad)"/>
<path class="e" d="M296.7,1066.7 L258.3,1030" marker-end="url(#ad)"/>
<path class="e" d="M410,1103.3 L448.3,1072.8" marker-end="url(#ad)"/>
<path class="e" d="M503.3,1103.3 L451.7,1072.8" marker-end="url(#ad)"/>
</g>

<g id="d-creativework" class="b"><rect x="409.3" y="887.3" width="98" height="47" rx="2"/><line x1="409.3" y1="913.3" x2="507.3" y2="913.3"/><text class="ti" x="458.3" y="904.7">CreativeWork (97)</text>
<text class="it k" x="412.5" y="925.5">CreativeWork name (97)</text></g>

<g id="d-tvshow" class="b"><rect x="126.7" y="981.7" width="73.3" height="79.3" rx="2"/><line x1="126.7" y1="1001.7" x2="200" y2="1001.7"/><text class="ti" x="163.3" y="996.7">Tvshow (6)</text>
<text class="it"><tspan x="129.5" y="1015.2">TV show name (6)</tspan><tspan x="129.5" dy="10">Director (5)</tspan><tspan x="129.5" dy="10">Description (7)</tspan><tspan x="129.5" dy="10">Rank (9)</tspan><tspan x="129.5" dy="10">Release year (5)</tspan></text></g>

<g id="d-media" class="b"><rect x="216.7" y="981.7" width="84.3" height="47.6" rx="2"/><line x1="216.7" y1="1001.7" x2="301" y2="1001.7"/><text class="ti" x="258.8" y="996.7">Media (11)</text>
<text class="it k"><tspan x="219.5" y="1015.2">Media name (11)</tspan><tspan x="219.5" dy="10.3">Price (10)</tspan></text></g>

<g id="d-newspaper" class="b"><rect x="169" y="1066.7" width="78.7" height="62.6" rx="2"/><line x1="169" y1="1092.3" x2="247.7" y2="1092.3"/><text class="ti" x="208.3" y="1083.3">Newspaper (6)</text>
<text class="it"><tspan x="172" y="1105.2">Newspaper title (6)</tspan><tspan x="172" dy="9.9">Platform (5)</tspan><tspan x="172" dy="9.9">Price (6)</tspan></text></g>

<g id="d-novel" class="b"><rect x="258.7" y="1066.7" width="68.6" height="95" rx="2"/><line x1="258.7" y1="1092.3" x2="327.3" y2="1092.3"/><text class="ti" x="293" y="1083.3">Novel (5)</text>
<text class="it"><tspan x="261.5" y="1104.6">Novel name (5)</tspan><tspan x="261.5" dy="10">Author (5)</tspan><tspan x="261.5" dy="10">Description (4)</tspan><tspan x="261.5" dy="10">Telephone (2)</tspan><tspan x="261.5" dy="10">Year (5)</tspan><tspan x="261.5" dy="10">Price (4)</tspan></text></g>

<g id="d-book" class="b"><rect x="316.7" y="981.7" width="63.3" height="69" rx="2"/><line x1="316.7" y1="1001.7" x2="380" y2="1001.7"/><text class="ti" x="348.3" y="996.7">Book (8)</text>
<text class="it"><tspan x="319.5" y="1015.2">Book title (8)</tspan><tspan x="319.5" dy="10">Author (9)</tspan><tspan x="319.5" dy="10">Telephone (6)</tspan><tspan x="319.5" dy="10">Year (3)</tspan></text></g>

<g id="d-entertainment" class="b"><rect x="396" y="981.7" width="106.3" height="90.6" rx="2"/><line x1="396" y1="1001.7" x2="502.3" y2="1001.7"/><text class="ti" x="449.2" y="996.7">Entertainment (24)</text>
<text class="it"><tspan class="k" x="399" y="1015.2">Entertainment name (24)</tspan><tspan x="399" dy="10">Director (17)</tspan><tspan x="399" dy="10">Description (12)</tspan><tspan x="399" dy="10">Platform (20)</tspan><tspan x="399" dy="10">Publisher (20)</tspan><tspan x="399" dy="10">Release year (24)</tspan></text></g>

<g id="d-videogames9" class="b"><rect x="364.3" y="1103.3" width="90" height="90" rx="2"/><line x1="364.3" y1="1125" x2="454.3" y2="1125"/><text class="ti" x="409.3" y="1119">Video Games (9)</text>
<text class="it"><tspan x="367" y="1136.2">Video game name (9)</tspan><tspan x="367" dy="10.1">Author (3)</tspan><tspan x="367" dy="10.1">Category (6)</tspan><tspan x="367" dy="10.1">Genre (5)</tspan><tspan x="367" dy="10.1">Organizer (9)</tspan><tspan x="367" dy="10.1">Rating (7)</tspan></text></g>

<g id="d-movie15" class="b"><rect x="470" y="1103.3" width="70" height="57.7" rx="2"/><line x1="470" y1="1125" x2="540" y2="1125"/><text class="ti" x="505" y="1119">Movie (15)</text>
<text class="it"><tspan x="473" y="1136.2">Movie name (15)</tspan><tspan x="473" dy="10">Duration (3)</tspan><tspan x="473" dy="10">Rank (23)</tspan></text></g>

<g id="d-musictrack" class="b"><rect x="518.3" y="981.7" width="84.4" height="79.3" rx="2"/><line x1="518.3" y1="1001.7" x2="602.7" y2="1001.7"/><text class="ti" x="560.5" y="996.7">Music track (14)</text>
<text class="it"><tspan x="521" y="1015.2">Music track name (14)</tspan><tspan x="521" dy="10">Image (10)</tspan><tspan x="521" dy="10">Description (15)</tspan><tspan x="521" dy="10">Rating (14)</tspan><tspan x="521" dy="10">Track (13)</tspan></text></g>

<g id="d-videogames7" class="b"><rect x="618.3" y="981.7" width="90" height="148" rx="2"/><line x1="618.3" y1="1001.7" x2="708.3" y2="1001.7"/><text class="ti" x="663.3" y="996.7">Video games (7)</text>
<text class="it"><tspan x="621" y="1015.2">Video game name (7)</tspan><tspan x="621" dy="10">Author (1)</tspan><tspan x="621" dy="10">Description (2)</tspan><tspan x="621" dy="10">Duration (1)</tspan><tspan x="621" dy="10">Genre (6)</tspan><tspan x="621" dy="10">Organizer (2)</tspan><tspan x="621" dy="10">Price (2)</tspan><tspan x="621" dy="10">Platform (8)</tspan><tspan x="621" dy="10">Rank (3)</tspan><tspan x="621" dy="10">Release year (6)</tspan><tspan x="621" dy="10">Track (4)</tspan><tspan x="621" dy="10">Telephone (2)</tspan></text></g>

<g id="d-movie23" class="b"><rect x="718.3" y="981.7" width="69.4" height="168" rx="2"/><line x1="718.3" y1="1001.7" x2="787.7" y2="1001.7"/><text class="ti" x="753" y="996.7">Movie (23)</text>
<text class="it"><tspan x="721" y="1015.2">Movie name (23)</tspan><tspan x="721" dy="10">Actor (8)</tspan><tspan x="721" dy="10">Category (15)</tspan><tspan x="721" dy="10">Director (22)</tspan><tspan x="721" dy="10">Description (19)</tspan><tspan x="721" dy="10">Duration (8)</tspan><tspan x="721" dy="10">Genre (20)</tspan><tspan x="721" dy="10">Image (20)</tspan><tspan x="721" dy="10">Telephone (22)</tspan><tspan x="721" dy="10">Price (5)</tspan><tspan x="721" dy="10">Platform (5)</tspan><tspan x="721" dy="10">Rank (12)</tspan><tspan x="721" dy="10">Rating (27)</tspan><tspan x="721" dy="10">Release year (30)</tspan></text></g>

<g id="d-event" class="b"><rect x="798.3" y="981.7" width="74.4" height="138" rx="2"/><line x1="798.3" y1="1001.7" x2="872.7" y2="1001.7"/><text class="ti" x="835.5" y="996.7">Event (4)</text>
<text class="it"><tspan x="801" y="1015.2">name (4)</tspan><tspan x="801" dy="10">Author (2)</tspan><tspan x="801" dy="10">Address (3)</tspan><tspan x="801" dy="10">Category (4)</tspan><tspan x="801" dy="10">Director (3)</tspan><tspan x="801" dy="10">Description (2)</tspan><tspan x="801" dy="10">Image (2)</tspan><tspan x="801" dy="10">Organizer (2)</tspan><tspan x="801" dy="10">Price (2)</tspan><tspan x="801" dy="10">Release year (7)</tspan><tspan x="801" dy="10">Telephone (5)</tspan></text></g>
</g>
<text class="cap" x="499" y="1233">(d) Sub-hierarchy under CreativeWork by EmSI</text>
</svg>
